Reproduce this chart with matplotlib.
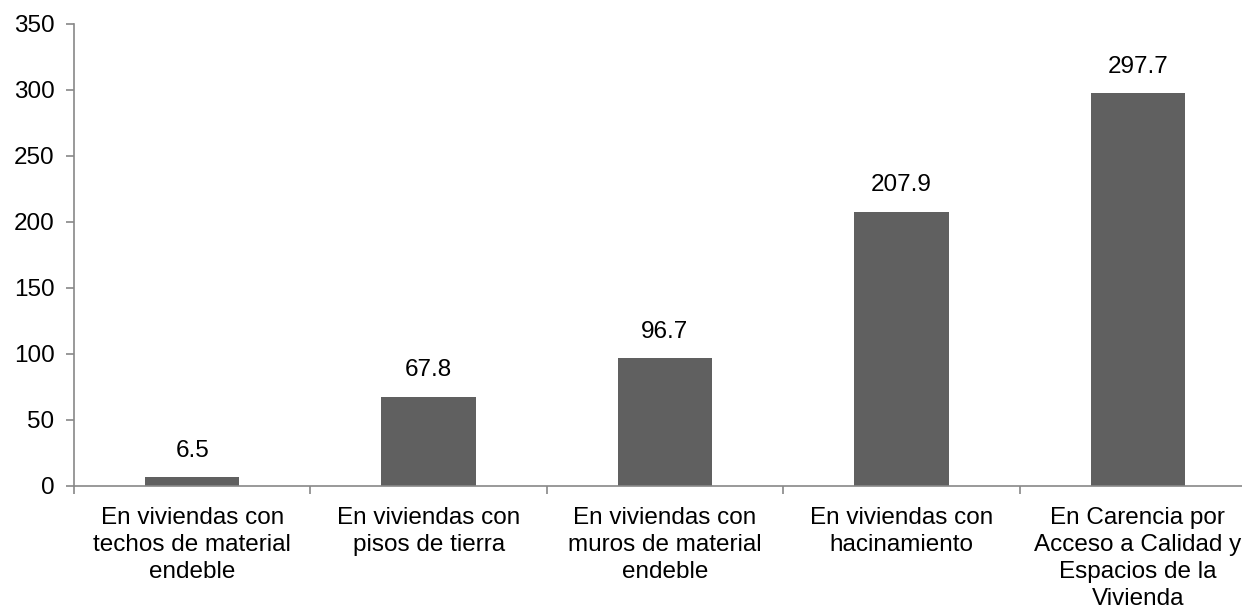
import matplotlib
matplotlib.use("Agg")
import matplotlib.pyplot as plt
from matplotlib.ticker import FixedLocator

plt.rcParams['font.family'] = ['Liberation Sans', 'DejaVu Sans']

categories = [
    "En viviendas con\ntechos de material\nendeble",
    "En viviendas con\npisos de tierra",
    "En viviendas con\nmuros de material\nendeble",
    "En viviendas con\nhacinamiento",
    "En Carencia por\nAcceso a Calidad y\nEspacios de la\nVivienda",
]
values = [6.5, 67.8, 96.7, 207.9, 297.7]
value_labels = ["6.5", "67.8", "96.7", "207.9", "297.7"]
yticks = [0, 50, 100, 150, 200, 250, 300, 350]

fig = plt.figure(figsize=(12.42, 6.08), dpi=100)
ax = fig.add_axes([74/1242, 122/608, 1182/1242, 462/608])

x = list(range(len(categories)))
bars = ax.bar(x, values, width=0.4, color="#606060", zorder=2)

for xi, v, lab in zip(x, values, value_labels):
    ax.annotate(lab, (xi, v), xytext=(0, 11), textcoords="offset points",
                ha="center", va="bottom", fontsize=17.5, color="black")

ax.set_xlim(-0.5, len(categories) - 0.5)
ax.set_ylim(0, 350)
ax.set_yticks(yticks)
ax.set_yticklabels([str(t) for t in yticks], fontsize=17.5)

ax.set_xticks(x)
ax.set_xticklabels(categories, fontsize=17.5, linespacing=1.3)
ax.xaxis.set_minor_locator(FixedLocator([i - 0.5 for i in range(len(categories) + 1)]))
ax.tick_params(axis="x", which="major", length=0, pad=15)
ax.tick_params(axis="x", which="minor", length=6, color="#888888", width=1.2)
ax.tick_params(axis="y", length=6, color="#888888", width=1.2, pad=8)

for s in ["top", "right"]:
    ax.spines[s].set_visible(False)
for s in ["left", "bottom"]:
    ax.spines[s].set_color("#888888")
    ax.spines[s].set_linewidth(1.2)

fig.savefig("out.png", dpi=100)
